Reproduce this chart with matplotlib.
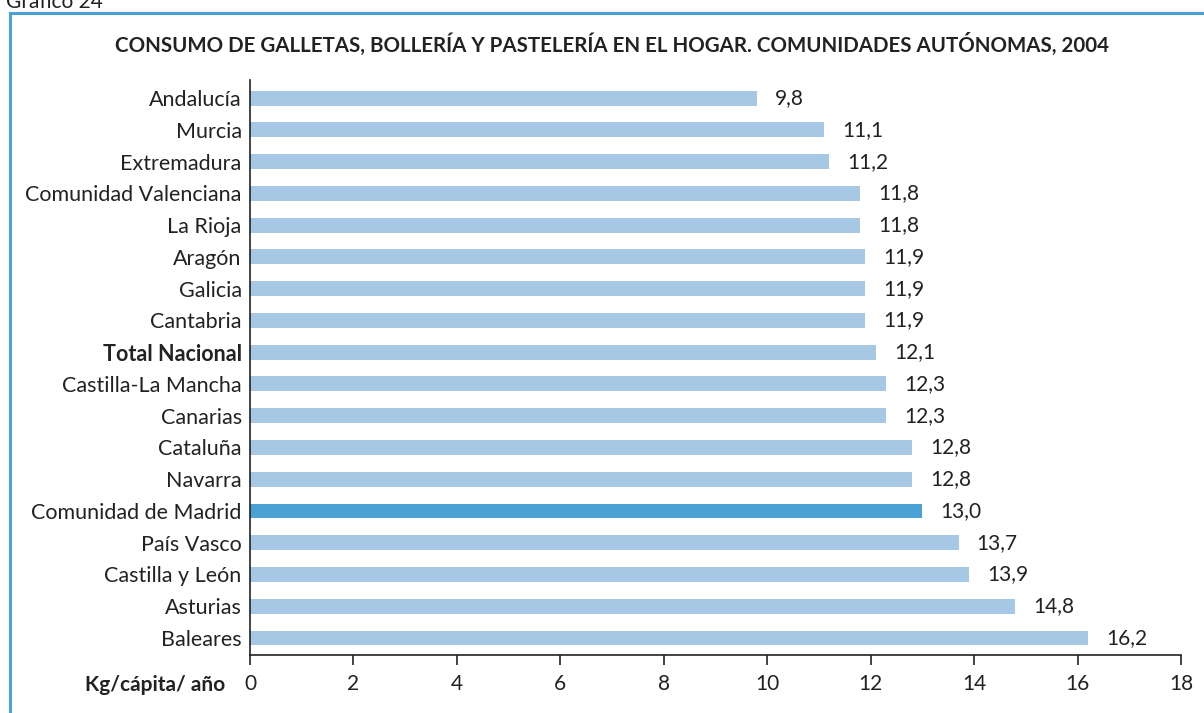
import matplotlib
matplotlib.use("Agg")
import matplotlib.pyplot as plt
from matplotlib.lines import Line2D

# consumo per capita (kg/capita/año), 2004
regiones = ["Andalucía", "Murcia", "Extremadura", "Comunidad Valenciana", "La Rioja",
            "Aragón", "Galicia", "Cantabria", "Total Nacional", "Castilla-La Mancha",
            "Canarias", "Cataluña", "Navarra", "Comunidad de Madrid", "País Vasco",
            "Castilla y León", "Asturias", "Baleares"]
consumo = [9.8, 11.1, 11.2, 11.8, 11.8, 11.9, 11.9, 11.9, 12.1, 12.3,
           12.3, 12.8, 12.8, 13.0, 13.7, 13.9, 14.8, 16.2]
resaltado = "Comunidad de Madrid"
x_ticks = [0, 2, 4, 6, 8, 10, 12, 14, 16, 18]

plt.rcParams['font.family'] = ['Lato', 'DejaVu Sans']

W, H = 1204, 713
fig = plt.figure(figsize=(W / 100, H / 100), dpi=100)
ax = fig.add_axes([250 / W, 1 - 655 / H, (1181 - 250) / W, (655 - 80) / H])

color_claro = "#a6c8e5"
color_oscuro = "#4ba1d3"
colores = [color_oscuro if r == resaltado else color_claro for r in regiones]
pos = list(range(len(regiones)))

ax.barh(pos, consumo, height=0.47, color=colores)
for p, v in zip(pos, consumo):
    ax.text(v + 0.35, p, f"{v:.1f}".replace(".", ","), va="center", ha="left",
            fontsize=15, color="#222222")

ax.set_ylim(len(regiones) - 1 + 0.535, -0.57)
ax.set_xlim(0, 18)
ax.set_yticks(pos)
ax.set_yticklabels(regiones, fontsize=15.5, color="#222222")
for lbl in ax.get_yticklabels():
    if lbl.get_text() == "Total Nacional":
        lbl.set_fontweight("bold")
ax.tick_params(axis="y", length=0, pad=6)
ax.set_xticks(x_ticks)
ax.set_xticklabels([str(t) for t in x_ticks], fontsize=15, color="#222222")
ax.tick_params(axis="x", direction="out", length=7, width=1.2, pad=7, color="#222222")
ax.spines["top"].set_visible(False)
ax.spines["right"].set_visible(False)
ax.spines["left"].set_color("#222222")
ax.spines["bottom"].set_color("#222222")
ax.spines["left"].set_linewidth(1.2)
ax.spines["bottom"].set_linewidth(1.2)

fig.text(225 / W, 1 - 685 / H, "Kg/cápita/ año", ha="right", va="center",
         fontsize=15, fontweight="bold", color="#222222")
fig.text(612 / W, 1 - 44 / H,
         "CONSUMO DE GALLETAS, BOLLERÍA Y PASTELERÍA EN EL HOGAR. COMUNIDADES AUTÓNOMAS, 2004",
         ha="center", va="center", fontsize=14.8, fontweight="bold", color="#222222")
fig.text(6 / W, 1 - 8 / H, "Gráfico 24", ha="left", va="baseline", fontsize=15,
         color="#222222")

# marco azul
fig.add_artist(Line2D([10 / W, 10 / W], [0, 1 - 13 / H], transform=fig.transFigure,
                      color=color_oscuro, linewidth=2.2))
fig.add_artist(Line2D([10 / W, 1], [1 - 13 / H, 1 - 13 / H], transform=fig.transFigure,
                      color=color_oscuro, linewidth=2.2))

fig.savefig("out.png", dpi=100)
